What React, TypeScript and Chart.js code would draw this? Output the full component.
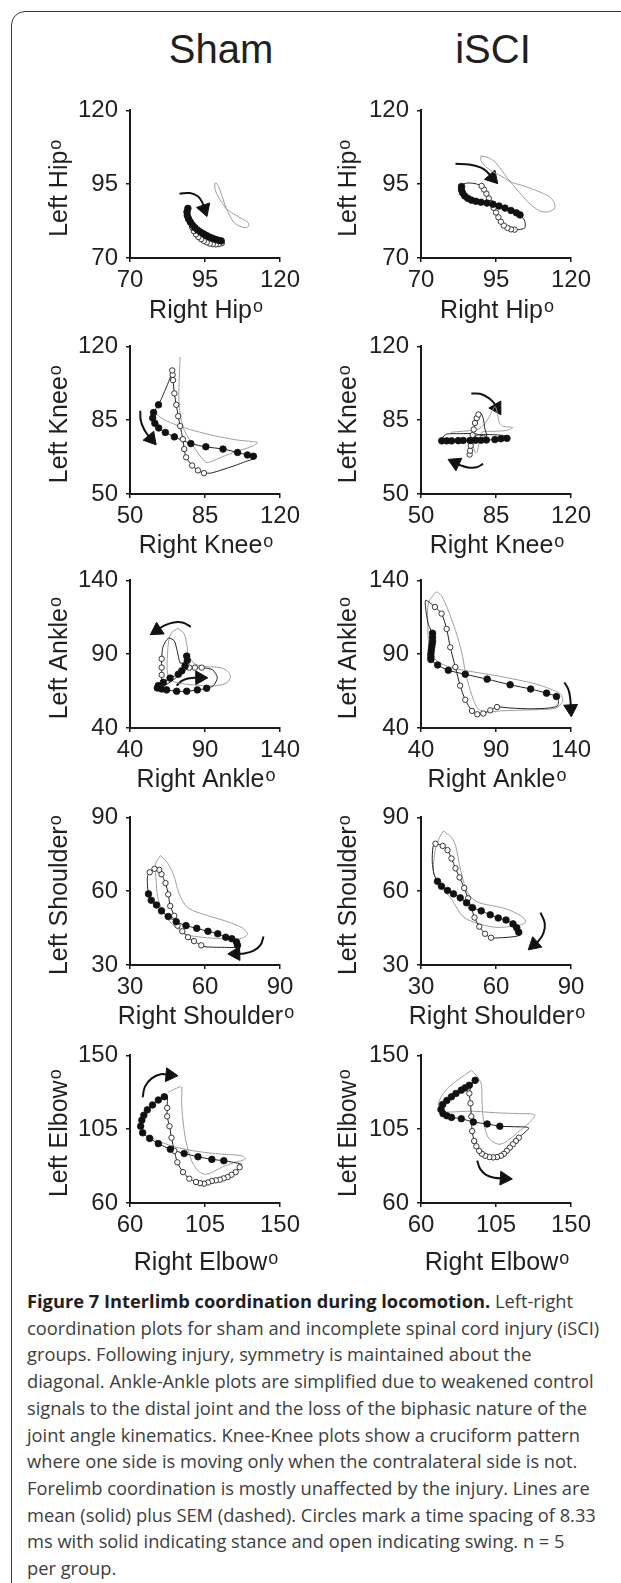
import React, { useEffect, useRef } from 'react';
import { Chart, registerables } from 'chart.js';

Chart.register(...registerables);

type P = [number, number];

// ---------- tick labels (min, mid, max) ----------
const hipTicks = [70, 95, 120];
const kneeTicks = [50, 85, 120];
const ankleTicks = [40, 90, 140];
const shoulderTicks = [30, 60, 90];
const elbowTicks = [60, 105, 150];

// ---------- Sham hip ----------
const shamHipStance: P[] = [[89.3,86.8],[89.0,85.6],[89.1,84.4],[89.5,83.3],[90.1,82.2],[90.8,81.2],[91.6,80.3],[92.5,79.5],[93.5,78.8],[94.5,78.2],[95.5,77.6],[96.5,77.1],[97.5,76.7],[98.5,76.3],[99.5,76.0],[100.4,75.8]];
const shamHipSwing: P[] = [[100.6,75.0],[99.6,74.7],[98.6,74.6],[97.6,74.7],[96.6,74.9],[95.6,75.3],[94.6,75.8],[93.7,76.4],[92.8,77.1],[92.0,78.0],[91.3,79.1],[90.7,80.4]];
const shamHipMean: P[] = [...shamHipStance, [101.0,75.4], ...shamHipSwing, [90.1,82.5],[89.6,85.0],[89.3,86.8]];
const shamHipSem: P[] = [[98.3,95.3],[98.3,93.5],[99,91.5],[100.5,89],[102.2,86.6],[104.4,85],[107,83.5],[109.3,82.1],[109.6,80.8],[108.5,80.3],[107,80.6],[104.5,82.2],[102.2,86.6],[101.2,89.3],[100,93],[98.8,95.4],[98.3,95.3]];
const shamHipArrow: P[] = [[86.5,91.8],[90.0,92.0],[92.6,90.9],[94.0,89.0],[94.8,86.6]];

// ---------- iSCI hip ----------
const sciHipStance: P[] = [[83.5,94.2],[83.5,93.1],[83.9,92.0],[84.6,91.0],[85.6,90.2],[86.8,89.6],[88.3,89.2],[90.0,88.9],[92.0,88.6],[94.0,88.2],[96.0,87.6],[98.0,86.9],[100.0,86.1],[101.8,85.3],[103.0,84.6]];
const sciHipSwing: P[] = [[101.2,79.6],[100.0,79.7],[98.8,80.2],[97.6,81.0],[96.6,82.3],[95.8,83.8],[95.0,85.4],[94.2,87.0],[93.4,88.6],[92.6,90.2],[91.8,91.8],[91.0,93.2],[90.2,94.4]];
const sciHipMean: P[] = [...sciHipStance, [104.6,82.5],[104.6,80.2],[102.5,79.6], ...sciHipSwing, [88.0,95.2],[85.5,95.4],[83.9,94.9],[83.5,94.2]];
const sciHipSem: P[] = [[90,104.6],[92.5,104],[95,102.2],[97.5,98.8],[100,95.8],[103,94.8],[106.5,93.6],[110,92.2],[113,90.6],[114.5,88.6],[114.4,86.6],[112,85.6],[109.5,86],[106,88.6],[102.8,92.2],[100,95.5],[97,97.6],[94,99.2],[91.5,101],[90,103],[90,104.6]];
const sciHipArrow: P[] = [[81.5,101.9],[86.0,101.7],[90.0,100.6],[92.2,99.0],[93.8,97.2]];

// ---------- Sham knee ----------
const shamKneeStance: P[] = [[63.3,92.3],[61.0,88.6],[60.6,86.0],[61.6,83.5],[63.4,81.3],[66.5,79.2],[70.7,77.1],[78.4,73.9],[85.4,72.4],[93.4,71.3],[100.2,69.7],[104.8,68.5],[107.6,67.9]];
const shamKneeSwing: P[] = [[84.5,59.9],[81.7,61.2],[79.0,63.5],[76.2,67.4],[75.3,71.3],[74.7,76.0],[73.4,82.2],[72.5,86.9],[71.6,92.3],[70.7,97.7],[70.1,104.0],[69.9,106.5],[69.7,108.6]];
const shamKneeMean: P[] = [...shamKneeStance, [108.4,67.0],[104,65.4],[99,63.5],[93,61.5],[88,60.0], ...shamKneeSwing, [68.5,104.5],[66.5,99.5],[64.8,95.5],[63.3,92.3]];
const shamKneeSem: P[] = [[62.0,88.0],[66.0,85.2],[72.0,82.6],[80.0,80.0],[90.0,77.5],[100.0,75.6],[109.4,74.4],[107.0,72.6],[100.0,70.3],[93.0,67.6],[88.0,65.4],[85.5,65.0],[82.0,69.0],[78.0,75.2],[75.0,81.0],[73.4,88.0],[72.8,96.0],[73.0,105.0],[73.4,115.0]];
const shamKneeArrow: P[] = [[54.8,89.5],[55.0,85.0],[56.5,80.8],[58.3,78.0],[59.8,76.2]];

// ---------- iSCI knee ----------
const sciKneeStance: P[] = [[59.7,75.2],[62.0,75.2],[64.3,75.2],[67.4,75.3],[69.7,75.4],[72.9,75.4],[75.5,75.5],[78.0,75.5],[80.5,75.6],[84.5,75.8],[87.3,76.2],[90.1,76.4]];
const sciKneeSwing: P[] = [[72.7,68.7],[72.9,70.5],[73.2,72.9],[73.6,75.2],[74.1,78.0],[74.6,80.6],[75.2,83.7],[76.0,86.0],[76.8,87.7]];
const sciKneeMean: P[] = [...sciKneeStance, [91.5,76.5],[88,77.8],[80,78.2],[76.5,78.0],[74.0,76.5],[73.0,72.0], ...sciKneeSwing, [78.0,88.3],[79.0,86.0],[79.8,81.0],[80.5,77.5],[75,78.6],[68,78.6],[62,78.4],[59.7,76.5]];
const sciKneeSem: P[] = [[64,79.3],[70,79.8],[76,80.5],[79,82.5],[81.5,86],[83.5,90],[84.6,91.5],[85.5,89],[86.5,84],[88,82.2],[92.8,81.5],[90,80.2],[84,79.7],[78.5,79.3],[77,74],[76.2,70],[75.3,69.6],[74.5,72.5],[74.2,78]];
const sciKneeArrowUp: P[] = [[73.5,97.7],[77.5,97.5],[81.5,95.6],[84.0,93.2],[85.4,90.8]];
const sciKneeArrowDown: P[] = [[79.0,64.3],[76.0,62.7],[72.0,62.6],[68.5,63.6],[66.0,64.8]];

// ---------- Sham ankle ----------
const shamAnkleStance: P[] = [[77.8,88.7],[78.2,85.8],[76.7,82.0],[74.5,78.7],[72.2,76.4],[66.7,73.8],[62.2,70.9],[58.9,68.7],[58.2,67.1],[61.1,66.4],[64.4,65.8],[71.1,64.9],[77.8,64.9],[84.9,65.8],[91.1,66.9]];
const shamAnkleSwing: P[] = [[87.8,80.9],[83.3,80.9],[79.6,80.9],[61.1,76.0],[61.1,80.9],[61.1,86.9]];
const shamAnkleMean: P[] = [...shamAnkleStance, [95.6,68.7],[98.2,74.2],[95.0,79.5],[87.8,80.9],[83.3,80.9],[79.6,80.9],[74.5,77.0],[68.0,72.0],[63.0,69.0],[61.3,72.0],[61.1,76.0],[61.1,80.9],[61.1,86.9],[62.0,95.0],[65.6,100.9],[69.5,99.0],[71.5,92.0],[73.5,84.0],[76.0,84.5],[77.8,88.7]];
const shamAnkleSem: P[] = [[72,107.5],[76,104],[78,96],[79,89],[84,83],[92,81.5],[100,81],[105,78.5],[107,75],[105,71],[100,69],[93,68.5],[85,69],[75,70],[68,72],[65,77],[65,90],[66,100],[68,105],[72,107.5]];
const shamAnkleArrowUp: P[] = [[80.5,108.5],[75.5,111.3],[69.0,111.5],[62.5,109.2],[58.0,106.2]];
const shamAnkleArrowDown: P[] = [[71.1,68.7],[74.0,71.6],[78.0,73.4],[82.5,74.0],[86.5,74.0]];

// ---------- iSCI ankle ----------
const sciAnkleStance: P[] = [[47.7,104.2],[47.7,101.5],[47.7,98.7],[47.4,96.6],[47.1,94.7],[46.8,92.4],[46.6,90.2],[46.6,88.2],[46.6,86.4],[51.1,82.7],[58.2,79.1],[69.5,76.4],[84.1,73.1],[99.4,69.3],[113.1,66.4],[123.7,63.6],[130.3,61.3]];
const sciAnkleSwing: P[] = [[90.7,54.2],[86.2,52.0],[81.5,49.8],[77.5,49.3],[74.0,51.6],[69.5,59.1],[66.1,68.7],[62.9,81.3],[59.5,94.7],[57.1,107.1],[53.7,117.5],[49.3,122.0]];
const sciAnkleMean: P[] = [...sciAnkleStance, [131.6,58.7],[131.0,55.0],[125.0,53.5],[113.0,53.0],[100.0,53.5], ...sciAnkleSwing, [43.1,126.5],[43.5,118.0],[45.0,110.0],[47.7,104.2]];
const sciAnkleSem: P[] = [[49.8,132],[45,125],[44.5,112],[45.5,95],[50,86],[60,81],[75,78],[90,75.5],[105,72.5],[116,70],[126,66.5],[133,63],[134.5,58],[130,53.5],[118,52.5],[105,52],[92,51.5],[84,50.8],[78,53],[74,62],[70,76],[67,92],[63,106],[58,120],[54,129],[51,132],[49.8,132]];
const sciAnkleArrow: P[] = [[135.6,70.9],[138.3,66.0],[139.5,60.0],[139.9,53.0]];

// ---------- Sham shoulder ----------
const shamShoulderStance: P[] = [[37.4,58.9],[38.5,56.3],[40.6,54.4],[42.6,52.0],[45.3,49.7],[48.5,47.6],[52.4,46.0],[56.7,44.9],[61.2,43.7],[65.1,42.7],[68.3,41.3],[70.7,40.7],[72.6,39.3],[73.0,38.0]];
const shamShoulderSwing: P[] = [[58.5,38.0],[55.6,39.7],[53.2,41.3],[50.9,43.7],[49.0,46.0],[47.7,50.0],[46.1,54.0],[45.3,58.7],[44.2,63.3],[42.6,66.9],[41.7,68.7],[39.8,69.1],[37.9,67.7]];
const shamShoulderMean: P[] = [...shamShoulderStance, [73.3,37.2],[66.0,37.2],[60.0,37.4], ...shamShoulderSwing, [37.0,66.0],[37.0,62.0],[37.4,58.9]];
const shamShoulderSem: P[] = [[42.2,74.5],[45,71.5],[47.5,66.5],[49,61],[50.5,57],[53.5,53],[60.4,50.3],[69.9,47.3],[75,45],[77,42.5],[74,40.7],[65,40.8],[57,41.5],[52.4,42.5],[47,46.5],[43,52],[41,58],[40.5,64],[40.2,71],[42.2,74.5]];
const shamShoulderArrow: P[] = [[83.4,41.6],[82.3,38.3],[79.5,35.8],[75.8,34.7],[72.3,34.6]];

// ---------- iSCI shoulder ----------
const sciShoulderStance: P[] = [[36.6,64.0],[38.2,62.0],[40.6,60.3],[43.0,58.9],[45.7,57.3],[48.2,55.3],[50.6,53.3],[54.1,52.0],[57.7,50.4],[60.9,49.1],[64.0,48.3],[66.8,46.7],[68.3,45.1],[69.1,43.3]];
const sciShoulderSwing: P[] = [[58.0,41.1],[55.6,42.7],[53.3,45.6],[51.4,49.3],[50.1,53.3],[48.8,57.1],[47.3,61.3],[45.4,65.6],[43.8,69.3],[42.2,73.3],[40.6,76.7],[38.7,78.4],[35.8,79.3]];
const sciShoulderMean: P[] = [...sciShoulderStance, [69.4,42.0],[64.0,41.2], ...sciShoulderSwing, [34.8,78.0],[34.5,72.0],[35.2,67.0],[36.6,64.0]];
const sciShoulderSem: P[] = [[39,84.5],[42,82],[43.8,78.7],[45.4,70.7],[47.7,61.5],[50,57.5],[53.3,55.3],[59,54],[64.4,52.7],[70.7,49.5],[71.8,47.3],[68,46],[60.4,45.3],[54,46.5],[47,49.5],[42.2,56.7],[38,62],[35.1,67],[35.1,72],[35.8,77.3],[37.5,82],[39,84.5]];
const sciShoulderArrow: P[] = [[77.8,51.3],[79.5,47.0],[79.0,43.0],[77.2,40.0],[75.3,38.3]];

// ---------- Sham elbow ----------
const shamElbowStance: P[] = [[80.6,124.8],[77.0,122.8],[73.5,119.8],[70.4,116.8],[68.3,113.5],[67.1,110.5],[66.4,106.8],[67.6,102.8],[71.8,99.4],[77.0,96.2],[84.2,92.8],[92.5,90.2],[100.8,88.2],[109.1,86.6],[116.3,85.8]];
const shamElbowSwing: P[] = [[125.8,81.8],[123.4,78.8],[120.9,77.2],[118.6,75.8],[116.2,75.0],[113.9,74.2],[111.5,73.8],[109.1,73.4],[106.8,72.5],[104.4,71.8],[102.0,72.1],[99.6,72.8],[95.6,74.8],[91.8,78.8],[88.4,84.8],[86.6,91.8],[84.9,99.8],[83.7,106.8],[82.3,112.8],[82.3,118.0]];
const shamElbowMean: P[] = [...shamElbowStance, [122.0,84.8],[127.0,83.5], ...shamElbowSwing, [82.3,125.5],[80.6,124.8]];
const shamElbowSem: P[] = [[83,127.5],[88,130],[90.8,130.8],[91,122],[91.5,113],[93.5,98],[97.3,85],[101,79.5],[105,77.5],[110,79],[115,81.8],[122,84.5],[129.3,86.8],[127,88.8],[115,89.8],[100,91.5],[88.9,93.8],[80,96.5],[74.7,98.8],[71.1,101.8]];
const shamElbowArrow: P[] = [[67.6,124.5],[69.0,131.0],[73.0,136.0],[78.5,138.5],[84.0,138.0]];

// ---------- iSCI elbow ----------
const sciElbowStance: P[] = [[92.5,134.8],[89.0,131.8],[86.5,130.2],[84.2,128.8],[81.0,126.8],[78.3,124.8],[75.5,122.5],[73.0,120.0],[72.0,117.0],[73.2,114.5],[75.5,113.2],[78.3,112.2],[84.2,111.4],[91.4,109.4],[99.7,108.2],[107.3,106.8]];
const sciElbowSwing: P[] = [[118.7,99.8],[116.9,97.8],[115.1,95.8],[113.3,93.8],[111.5,91.8],[109.8,90.0],[108.0,88.8],[105.6,88.0],[103.3,87.8],[101.0,88.0],[98.5,88.8],[96.5,90.0],[94.9,91.8],[93.2,94.6],[91.9,97.8],[90.7,103.8],[90.2,112.8],[89.7,120.8],[89.0,126.8]];
const sciElbowMean: P[] = [...sciElbowStance, [116.0,106.5],[124.6,105.8], ...sciElbowSwing, [90.0,131.0],[92.5,134.8]];
const sciElbowSem: P[] = [[90.2,140.8],[82,135],[75,129],[70.5,121],[72,116],[78,115.5],[90,116],[105,115],[118,114.5],[128.2,113.8],[125,109],[118,103],[112,98],[106.8,95.8],[101,99],[98.5,105],[97,115],[96.5,125],[96.1,132.8],[93,138],[90.2,140.8]];
const sciElbowArrow: P[] = [[93.7,85.8],[95.5,80.8],[99.0,77.2],[104.0,75.4],[110.0,75.0]];

const groupTitles = ['Sham', 'iSCI'];

const captionLines = [
  'coordination plots for sham and incomplete spinal cord injury (iSCI)',
  'groups. Following injury, symmetry is maintained about the',
  'diagonal. Ankle-Ankle plots are simplified due to weakened control',
  'signals to the distal joint and the loss of the biphasic nature of the',
  'joint angle kinematics. Knee-Knee plots show a cruciform pattern',
  'where one side is moving only when the contralateral side is not.',
  'Forelimb coordination is mostly unaffected by the injury. Lines are',
  'mean (solid) plus SEM (dashed). Circles mark a time spacing of 8.33',
  'ms with solid indicating stance and open indicating swing. n = 5',
  'per group.',
];

interface PlotDef {
  col: number; row: number; ticks: number[]; xLabel: string; yLabel: string;
  stance: P[]; swing: P[]; mean: P[]; sem: P[]; arrows: P[][];
}

const PLOTS: PlotDef[] = [
  { col: 0, row: 0, ticks: hipTicks, xLabel: 'Right Hip', yLabel: 'Left Hip', stance: shamHipStance, swing: shamHipSwing, mean: shamHipMean, sem: shamHipSem, arrows: [shamHipArrow] },
  { col: 1, row: 0, ticks: hipTicks, xLabel: 'Right Hip', yLabel: 'Left Hip', stance: sciHipStance, swing: sciHipSwing, mean: sciHipMean, sem: sciHipSem, arrows: [sciHipArrow] },
  { col: 0, row: 1, ticks: kneeTicks, xLabel: 'Right Knee', yLabel: 'Left Knee', stance: shamKneeStance, swing: shamKneeSwing, mean: shamKneeMean, sem: shamKneeSem, arrows: [shamKneeArrow] },
  { col: 1, row: 1, ticks: kneeTicks, xLabel: 'Right Knee', yLabel: 'Left Knee', stance: sciKneeStance, swing: sciKneeSwing, mean: sciKneeMean, sem: sciKneeSem, arrows: [sciKneeArrowUp, sciKneeArrowDown] },
  { col: 0, row: 2, ticks: ankleTicks, xLabel: 'Right Ankle', yLabel: 'Left Ankle', stance: shamAnkleStance, swing: shamAnkleSwing, mean: shamAnkleMean, sem: shamAnkleSem, arrows: [shamAnkleArrowUp, shamAnkleArrowDown] },
  { col: 1, row: 2, ticks: ankleTicks, xLabel: 'Right Ankle', yLabel: 'Left Ankle', stance: sciAnkleStance, swing: sciAnkleSwing, mean: sciAnkleMean, sem: sciAnkleSem, arrows: [sciAnkleArrow] },
  { col: 0, row: 3, ticks: shoulderTicks, xLabel: 'Right Shoulder', yLabel: 'Left Shoulder', stance: shamShoulderStance, swing: shamShoulderSwing, mean: shamShoulderMean, sem: shamShoulderSem, arrows: [shamShoulderArrow] },
  { col: 1, row: 3, ticks: shoulderTicks, xLabel: 'Right Shoulder', yLabel: 'Left Shoulder', stance: sciShoulderStance, swing: sciShoulderSwing, mean: sciShoulderMean, sem: sciShoulderSem, arrows: [sciShoulderArrow] },
  { col: 0, row: 4, ticks: elbowTicks, xLabel: 'Right Elbow', yLabel: 'Left Elbow', stance: shamElbowStance, swing: shamElbowSwing, mean: shamElbowMean, sem: shamElbowSem, arrows: [shamElbowArrow] },
  { col: 1, row: 4, ticks: elbowTicks, xLabel: 'Right Elbow', yLabel: 'Left Elbow', stance: sciElbowStance, swing: sciElbowSwing, mean: sciElbowMean, sem: sciElbowSem, arrows: [sciElbowArrow] },
];

// ---------- layout ----------
const FONT = '"Liberation Sans", Arial, Helvetica, sans-serif';
const AXIS_X = [130, 421];
const ROW_TOP = [108, 344, 578, 815, 1053];
const X_TITLE_BASE = [60, 59, 59, 59, 67];
const Y_TITLE_BASE = [63, 65];
const PLOT_SIZE = 150;
const Y_AXIS_W = 125;
const X_AXIS_H = 80;
const PAD_TOP = 20;
const PAD_RIGHT = 25;
const CANVAS_W = Y_AXIS_W + PLOT_SIZE + PAD_RIGHT;
const CANVAS_H = PAD_TOP + PLOT_SIZE + X_AXIS_H;
const INK = '#231f20';

const axisTitlePlugin = {
  id: 'axisTitles',
  afterDraw(chart: any, _args: any, opts: any) {
    const { ctx, chartArea: ca } = chart;
    const mainFont = `25px ${FONT}`;
    const supFont = `18px ${FONT}`;
    ctx.save();
    ctx.fillStyle = INK;
    ctx.textBaseline = 'alphabetic';
    ctx.textAlign = 'left';
    const measure = (t: string) => {
      ctx.font = mainFont;
      const w1 = ctx.measureText(t).width;
      ctx.font = supFont;
      const w2 = ctx.measureText('o').width;
      return { w1, total: w1 + 1 + w2 };
    };
    const mx = measure(opts.x);
    const cx = (ca.left + ca.right) / 2 + 1;
    const x0 = cx - mx.total / 2;
    const by = ca.bottom + opts.xBase;
    ctx.font = mainFont;
    ctx.fillText(opts.x, x0, by);
    ctx.font = supFont;
    ctx.fillText('o', x0 + mx.w1 + 1, by - 6.5);
    const my = measure(opts.y);
    const cy = (ca.top + ca.bottom) / 2 + 4;
    ctx.translate(ca.left - opts.yBase, cy);
    ctx.rotate(-Math.PI / 2);
    const y0 = -my.total / 2;
    ctx.font = mainFont;
    ctx.fillText(opts.y, y0, 0);
    ctx.font = supFont;
    ctx.fillText('o', y0 + my.w1 + 1, -6.5);
    ctx.restore();
  },
};

const toXY = (arr: P[]) => arr.map(([x, y]) => ({ x, y }));

function Panel({ def }: { def: PlotDef }) {
  const ref = useRef<HTMLCanvasElement | null>(null);
  useEffect(() => {
    if (!ref.current) return;
    const [tmin, tmid, tmax] = def.ticks;
    const step = tmid - tmin;
    const arrowSets = def.arrows.map((a) => ({
      label: 'Direction',
      data: toXY(a),
      showLine: true,
      borderColor: '#111',
      borderWidth: 2,
      tension: 0.4,
      clip: false as any,
      pointStyle: 'triangle' as const,
      pointRadius: (c: any) => (c.dataIndex === a.length - 1 ? 8 : 0),
      pointBackgroundColor: '#111',
      pointBorderColor: '#111',
      pointBorderWidth: 1,
      pointRotation: (c: any) => {
        const i = c.dataIndex;
        if (i === 0) return 0;
        const xs = c.chart.scales.x;
        const ys = c.chart.scales.y;
        const dx = xs.getPixelForValue(a[i][0]) - xs.getPixelForValue(a[i - 1][0]);
        const dy = ys.getPixelForValue(a[i][1]) - ys.getPixelForValue(a[i - 1][1]);
        return (Math.atan2(dx, -dy) * 180) / Math.PI;
      },
    }));
    const tickFont = { family: FONT, size: 24 };
    const chart = new Chart(ref.current, {
      type: 'scatter',
      data: {
        datasets: [
          { label: 'Stance', data: toXY(def.stance), showLine: false, pointRadius: 3.3, pointBackgroundColor: '#111', pointBorderColor: '#111', pointBorderWidth: 0.8, clip: false as any },
          { label: 'Swing', data: toXY(def.swing), showLine: false, pointRadius: 2.7, pointBackgroundColor: '#ffffff', pointBorderColor: '#222', pointBorderWidth: 0.9, clip: false as any },
          { label: 'Mean', data: toXY(def.mean), showLine: true, borderColor: '#222', borderWidth: 1, pointRadius: 0, tension: 0.25, clip: false as any },
          { label: 'SEM', data: toXY(def.sem), showLine: true, borderColor: '#9e9e9e', borderWidth: 1, pointRadius: 0, tension: 0.3, clip: false as any },
          ...arrowSets,
        ] as any,
      },
      options: {
        responsive: false,
        animation: false,
        devicePixelRatio: 1,
        events: [],
        layout: { padding: { top: PAD_TOP, right: PAD_RIGHT, left: 0, bottom: 0 } },
        plugins: {
          legend: { display: false },
          tooltip: { enabled: false },
          axisTitles: { x: def.xLabel, y: def.yLabel, xBase: X_TITLE_BASE[def.row], yBase: Y_TITLE_BASE[def.col] },
        } as any,
        scales: {
          x: {
            type: 'linear',
            min: tmin,
            max: tmax,
            ticks: { stepSize: step, font: tickFont, color: INK, padding: 4, maxRotation: 0, autoSkip: false },
            grid: { display: true, drawOnChartArea: false, drawTicks: true, tickLength: 4, color: '#1a1a1a', lineWidth: 1.5 },
            border: { display: true, color: '#1a1a1a', width: 2 },
            afterFit: (s: any) => { s.height = X_AXIS_H; },
          },
          y: {
            type: 'linear',
            min: tmin,
            max: tmax,
            ticks: { stepSize: step, font: tickFont, color: INK, padding: 8, autoSkip: false },
            grid: { display: true, drawOnChartArea: false, drawTicks: true, tickLength: 4, color: '#1a1a1a', lineWidth: 1.5 },
            border: { display: true, color: '#1a1a1a', width: 2 },
            afterFit: (s: any) => { s.width = Y_AXIS_W; },
          },
        },
      },
      plugins: [axisTitlePlugin as any],
    });
    return () => chart.destroy();
  }, [def]);
  const left = AXIS_X[def.col] - Y_AXIS_W;
  const top = ROW_TOP[def.row] - PAD_TOP;
  return (
    <canvas
      ref={ref}
      width={CANVAS_W}
      height={CANVAS_H}
      style={{ position: 'absolute', left, top, width: CANVAS_W, height: CANVAS_H }}
    />
  );
}

export default function App() {
  const titleCenters = [221, 493];
  return (
    <div style={{ position: 'absolute', left: 0, top: 0, width: 621, height: 1583, overflow: 'hidden', background: '#fff' }}>
      <div style={{ position: 'absolute', left: 11, top: 11, width: 700, height: 1700, border: '1.5px solid #3a3a3a', borderRadius: 14, boxSizing: 'border-box' }} />
      {groupTitles.map((t, i) => (
        <div key={t} style={{ position: 'absolute', left: titleCenters[i] - 100, top: 29, width: 200, textAlign: 'center', font: `40px/40px ${FONT}`, color: INK }}>{t}</div>
      ))}
      {PLOTS.map((d, i) => <Panel key={i} def={d} />)}
      <div style={{ position: 'absolute', left: 27, top: 1288, fontFamily: '"Open Sans", sans-serif', fontSize: 18.3, lineHeight: '26.7px', color: '#3d3d3d', whiteSpace: 'nowrap' }}>
        <div><b style={{ color: '#1f1f1f', fontWeight: 700 }}>Figure 7 Interlimb coordination during locomotion.</b> Left-right</div>
        {captionLines.map((l, i) => <div key={i}>{l}</div>)}
      </div>
    </div>
  );
}
